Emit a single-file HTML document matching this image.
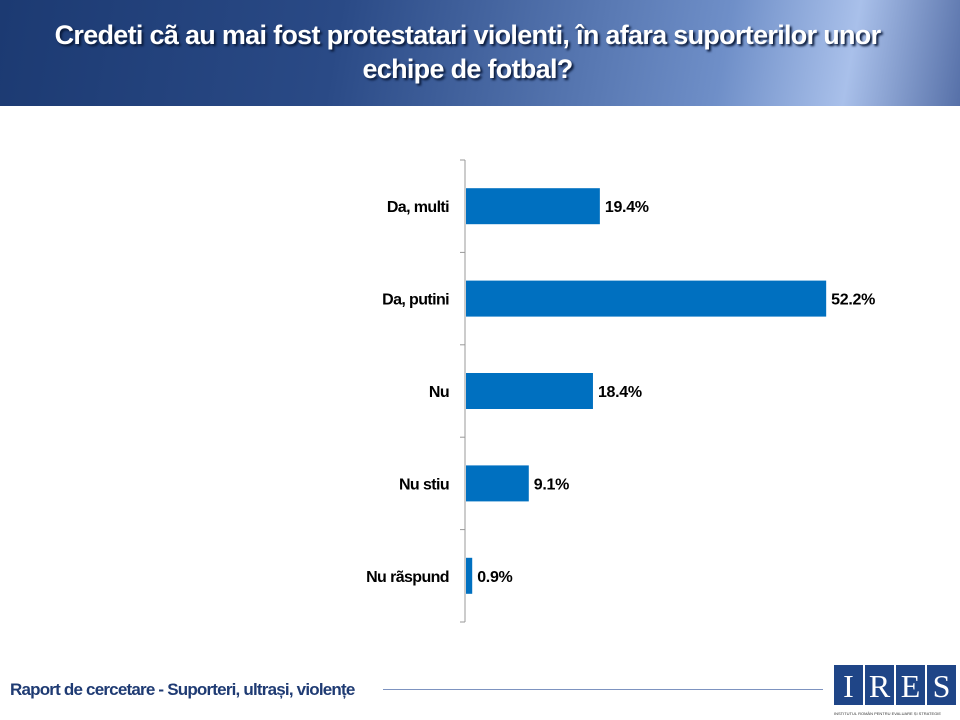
<!DOCTYPE html>
<html><head><meta charset="utf-8"><style>
body{margin:0;width:960px;height:720px;overflow:hidden;background:#fff;font-family:"Liberation Sans",sans-serif;position:relative}
#hdr{position:absolute;left:0;top:0;width:960px;height:106px;background:linear-gradient(100deg,#1c3a72 0%,#2a4a86 35%,#6f8fc8 75%,#a9c0ea 88%,#5670a8 100%)}
#title{position:absolute;left:0;top:18px;width:935px;text-align:center;color:#fff;font-weight:bold;font-size:27px;line-height:34px;text-shadow:2px 2px 2px #0a1a3a;letter-spacing:-0.7px;white-space:nowrap}
#foot{position:absolute;left:10px;top:680px;font-size:17px;font-weight:bold;color:#1f3b73;letter-spacing:-0.8px}
#fline{position:absolute;left:383px;top:689px;width:440px;height:1px;background:#7d93c0}
.lg{position:absolute;top:665px;width:29px;height:40px;background:#1f4587;color:#fff;font-family:"Liberation Serif",serif;font-size:32px;text-align:center;line-height:42px}
</style></head><body>
<div id="hdr"></div>
<div id="title">Credeti cã au mai fost protestatari violenti, în afara suporterilor unor<br>echipe de fotbal?</div>
<svg id="chart" width="960" height="720" style="position:absolute;left:0;top:0"></svg>
<div id="foot">Raport de cercetare - Suporteri, ultrași, violențe</div>
<div id="fline"></div>
<div class="lg" style="left:834px">I</div>
<div class="lg" style="left:865px">R</div>
<div class="lg" style="left:896px">E</div>
<div class="lg" style="left:927px">S</div>
<div style="position:absolute;left:834px;top:711px;font-size:4px;color:#333;white-space:nowrap">INSTITUTUL ROMÂN PENTRU EVALUARE ȘI STRATEGIE</div>
<script>
const categories=["Da, multi","Da, putini","Nu","Nu stiu","Nu rãspund"];
const values=[19.4,52.2,18.4,9.1,0.9];
const labels=["19.4%","52.2%","18.4%","9.1%","0.9%"];
const svg=document.getElementById('chart');
const NS='http://www.w3.org/2000/svg';
const x0=465,yTop=160,yBot=622,pxPer=6.9;
const band=(yBot-yTop)/categories.length;
const xs=v=>x0+v*pxPer;
const yc=i=>yTop+band*(i+0.5);
function mk(t,a){const e=document.createElementNS(NS,t);for(const k in a)e.setAttribute(k,a[k]);svg.appendChild(e);return e;}
const ax=mk('line',{x1:x0,y1:yTop,x2:x0,y2:yBot,stroke:'#999','stroke-width':1});


for(let i=0;i<=categories.length;i++){const y=yTop+band*i;const t=mk('line',{x1:x0-5,y1:y,x2:x0,y2:y,stroke:'#999'});

}
categories.forEach((c,i)=>{
const y=yc(i);
const r=mk('rect',{x:x0+1,y:y-18,width:xs(values[i])-x0,height:36,fill:'#0070c0'});


const l=mk('text',{x:x0-16,y:y+6,'text-anchor':'end','font-size':16,'font-weight':'bold','font-family':'Liberation Sans, sans-serif','letter-spacing':'-0.6'});l.textContent=c;


const v=mk('text',{x:xs(values[i])+6,y:y+6,'font-size':16,'font-weight':'bold','font-family':'Liberation Sans, sans-serif','letter-spacing':'-0.3'});v.textContent=labels[i];


});
</script>
</body></html>
